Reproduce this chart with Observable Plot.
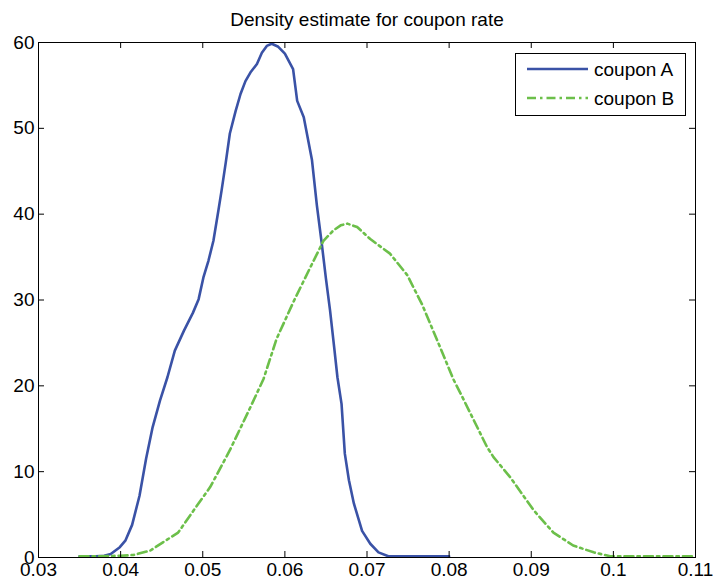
<!DOCTYPE html>
<html>
<head>
<meta charset="utf-8">
<script src="https://cdn.jsdelivr.net/npm/d3@7"></script>
<script src="https://cdn.jsdelivr.net/npm/@observablehq/plot@0.6"></script>
<style>
  html, body { margin: 0; padding: 0; background: #fff; }
  #wrap { position: relative; width: 713px; height: 585px; font-family: "Liberation Sans", Arial, sans-serif; }
  #legend { position: absolute; left: 515px; top: 53px; width: 171px; height: 63px; box-sizing: border-box; border: 1px solid #000; background: #fff; }
  #legend svg { display: block; }
</style>
</head>
<body>
<div id="wrap"></div>
<script>
const title = "Density estimate for coupon rate";
const seriesNames = ["coupon A", "coupon B"];
const seriesColors = ["#3a52a6", "#6cbf4a"];

const xTicks = [0.03, 0.04, 0.05, 0.06, 0.07, 0.08, 0.09, 0.1, 0.11];
const yTicks = [0, 10, 20, 30, 40, 50, 60];

// coupon A (solid blue)
const couponAx = [0.0350, 0.0370, 0.0380, 0.0388, 0.0399, 0.0406, 0.0414, 0.0423, 0.0431, 0.0439,
  0.0448, 0.0457, 0.0466, 0.0477, 0.0488, 0.0495, 0.0501, 0.0507, 0.0513, 0.0519,
  0.0523, 0.0528, 0.0533, 0.0540, 0.0546, 0.0552, 0.0558, 0.0566, 0.0572, 0.0578,
  0.0584, 0.0592, 0.0600, 0.0610, 0.0615, 0.0623, 0.0633, 0.0639, 0.0645, 0.0650,
  0.0655, 0.0660, 0.0664, 0.0669, 0.0673, 0.0678, 0.0684, 0.0694, 0.0704, 0.0714,
  0.0726, 0.0800];
const couponAy = [0.15, 0.15, 0.2, 0.4, 1.2, 2.0, 3.8, 7.2, 11.5, 15.2,
  18.3, 21.0, 24.1, 26.4, 28.5, 30.1, 32.7, 34.6, 36.9, 40.4,
  42.8, 46.0, 49.4, 52.0, 54.0, 55.5, 56.5, 57.5, 58.8, 59.6,
  59.85, 59.5, 58.7, 56.9, 53.2, 51.3, 46.3, 41.0, 36.5, 32.5,
  28.8, 24.5, 21.0, 17.9, 12.1, 9.0, 6.3, 3.1, 1.6, 0.6,
  0.15, 0.15];

// coupon B (dash-dot green)
const couponBx = [0.0350, 0.0375, 0.0400, 0.0416, 0.0436, 0.0452, 0.0470, 0.0489, 0.0509, 0.0533,
  0.0558, 0.0574, 0.0590, 0.0611, 0.0631, 0.0647, 0.0659, 0.0668, 0.0676, 0.0688,
  0.0704, 0.0728, 0.0749, 0.0767, 0.0789, 0.0805, 0.0814, 0.0830, 0.0846, 0.0854,
  0.0874, 0.0903, 0.0927, 0.0951, 0.0976, 0.0996, 0.1100];
const couponBy = [0.15, 0.15, 0.2, 0.3, 0.8, 1.8, 2.9, 5.5, 8.2, 12.5,
  17.5, 20.8, 25.5, 29.9, 33.8, 36.9, 38.1, 38.7, 38.9, 38.5,
  37.1, 35.4, 32.9, 29.5, 24.5, 20.8, 19.1, 16.0, 12.9, 11.7,
  9.4, 5.5, 2.9, 1.4, 0.6, 0.15, 0.15];

const dataA = couponAx.map((x, i) => ({x, y: couponAy[i]}));
const dataB = couponBx.map((x, i) => ({x, y: couponBy[i]}));

const W = 713, H = 585, mL = 38, mR = 18, mT = 42, mB = 28;
const frameW = W - mL - mR, frameH = H - mT - mB;
const tickLen = 6;

const chart = Plot.plot({
  width: W,
  height: H,
  marginLeft: mL,
  marginRight: mR,
  marginTop: mT,
  marginBottom: mB,
  style: { fontFamily: "'Liberation Sans', Arial, sans-serif", fontSize: "19px", color: "#000", background: "#fff", overflow: "visible" },
  x: { domain: [0.03, 0.11], label: null },
  y: { domain: [0, 60], label: null },
  marks: [
    Plot.line(dataA, { x: "x", y: "y", stroke: seriesColors[0], strokeWidth: 2.6 }),
    Plot.line(dataB, { x: "x", y: "y", stroke: seriesColors[1], strokeWidth: 2.6, strokeDasharray: "9,4,2.5,4" }),
    Plot.frame({ stroke: "#000", strokeWidth: 1 }),
    Plot.tickX(xTicks, { x: d => d, insetTop: frameH - tickLen, stroke: "#000" }),
    Plot.tickX(xTicks, { x: d => d, insetBottom: frameH - tickLen, stroke: "#000" }),
    Plot.tickY(yTicks, { y: d => d, insetRight: frameW - tickLen, stroke: "#000" }),
    Plot.tickY(yTicks, { y: d => d, insetLeft: frameW - tickLen, stroke: "#000" }),
    Plot.axisX({ ticks: xTicks, tickSize: 0, tickPadding: 5, tickFormat: d3.format("~g"), fontSize: 19, label: null }),
    Plot.axisY({ ticks: yTicks, tickSize: 0, tickPadding: 4, fontSize: 19, label: null }),
    Plot.text([title], { text: d => d, frameAnchor: "top", lineAnchor: "bottom", dy: -17, fontSize: 19 })
  ]
});
document.getElementById("wrap").appendChild(chart);

// legend
const legend = document.createElement("div");
legend.id = "legend";
const ns = "http://www.w3.org/2000/svg";
const lsvg = document.createElementNS(ns, "svg");
lsvg.setAttribute("width", 169);
lsvg.setAttribute("height", 61);
seriesNames.forEach((name, i) => {
  const yy = 15 + i * 29;
  const line = document.createElementNS(ns, "line");
  line.setAttribute("x1", 11); line.setAttribute("x2", 72);
  line.setAttribute("y1", yy); line.setAttribute("y2", yy);
  line.setAttribute("stroke", seriesColors[i]);
  line.setAttribute("stroke-width", 2.6);
  if (i === 1) line.setAttribute("stroke-dasharray", "9,4,2.5,4");
  lsvg.appendChild(line);
  const t = document.createElementNS(ns, "text");
  t.setAttribute("x", 78); t.setAttribute("y", yy + 7);
  t.setAttribute("font-size", 19);
  t.setAttribute("font-family", "'Liberation Sans', Arial, sans-serif");
  t.setAttribute("fill", "#000");
  t.textContent = name;
  lsvg.appendChild(t);
});
legend.appendChild(lsvg);
document.getElementById("wrap").appendChild(legend);
</script>
</body>
</html>
